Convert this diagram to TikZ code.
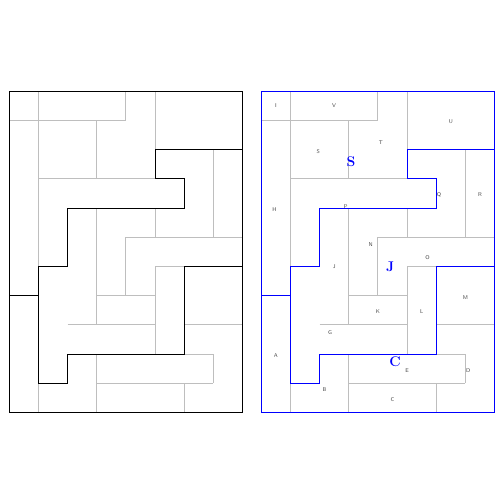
\documentclass[tikz,border=0pt]{standalone}
\usepackage{xcolor}
\definecolor{tilegray}{HTML}{BEBEBE}
\definecolor{lblgray}{HTML}{4A4A4A}
\tikzset{
  tileline/.style={draw=tilegray, line width=1pt},
  groupline/.style={line width=1.1pt, line join=miter},
  smalllbl/.style={inner sep=0pt, text=lblgray, font=\sffamily\fontsize{5.5}{5.5}\selectfont},
  biglbl/.style={inner sep=0pt, text=blue, font=\bfseries\fontsize{14}{14}\selectfont}
}
\begin{document}
\begin{tikzpicture}[x=1pt,y=-1pt]
\useasboundingbox[fill=white] (0,0) rectangle (504,504);
\foreach \ox/\col in {9.3/black, 261.3/blue}{
\begin{scope}[shift={(\ox pt,-91.3pt)}, x=29.15pt, y=-29.2pt]
  % gray tile divisions
  \draw[tileline] (1,0)--(1,6) (1,10)--(1,11) (0,1)--(4,1) (4,0)--(4,1)
    (5,0)--(5,2) (3,1)--(3,3) (1,3)--(5,3) (3,4)--(3,8) (2,8)--(5,8)
    (3,7)--(5,7) (4,5)--(4,7) (4,5)--(8,5) (5,4)--(5,5) (5,6)--(5,9)
    (5,6)--(6,6) (7,2)--(7,5) (6,8)--(8,8) (6,9)--(7,9) (7,9)--(7,10)
    (3,10)--(7,10) (3,9)--(3,11) (6,10)--(6,11);
  % group outlines
  \draw[groupline, draw=\col] (0,0) rectangle (8,11);
  \draw[groupline, draw=\col] (8,2)--(5,2)--(5,3)--(6,3)--(6,4)--(2,4)--(2,6)--(1,6)--(1,10)--(2,10)--(2,9)--(6,9)--(6,6)--(8,6);
  \draw[groupline, draw=\col] (0,7)--(1,7);
\end{scope}
}
\begin{scope}[shift={(261.3pt,-91.3pt)}, x=29.15pt, y=-29.2pt]
  \node[smalllbl] (lI) at (0.5,0.5) {I};
  \node[smalllbl] (lV) at (2.5,0.5) {V};
  \node[smalllbl] (lU) at (6.5,1.05) {U};
  \node[smalllbl] (lT) at (4.1,1.75) {T};
  \node[smalllbl] (lS) at (1.95,2.05) {S};
  \node[smalllbl] (lH) at (0.45,4.05) {H};
  \node[smalllbl] (lP) at (2.9,3.95) {P};
  \node[smalllbl] (lQ) at (6.1,3.55) {Q};
  \node[smalllbl] (lR) at (7.5,3.55) {R};
  \node[smalllbl] (lN) at (3.75,5.25) {N};
  \node[smalllbl] (lJ) at (2.5,6.0) {J};
  \node[smalllbl] (lO) at (5.7,5.7) {O};
  \node[smalllbl] (lG) at (2.36,8.25) {G};
  \node[smalllbl] (lK) at (4.0,7.55) {K};
  \node[smalllbl] (lL) at (5.5,7.55) {L};
  \node[smalllbl] (lM) at (7.0,7.05) {M};
  \node[smalllbl] (lA) at (0.5,9.05) {A};
  \node[smalllbl] (lB) at (2.17,10.2) {B};
  \node[smalllbl] (lE) at (5.0,9.55) {E};
  \node[smalllbl] (lC) at (4.5,10.55) {C};
  \node[smalllbl] (lD) at (7.1,9.55) {D};
  \node[biglbl] (gS) at (3.08,2.4) {S};
  \node[biglbl] (gJ) at (4.42,6.0) {J};
  \node[biglbl] (gC) at (4.59,9.25) {C};
\end{scope}
\end{tikzpicture}
\end{document}
